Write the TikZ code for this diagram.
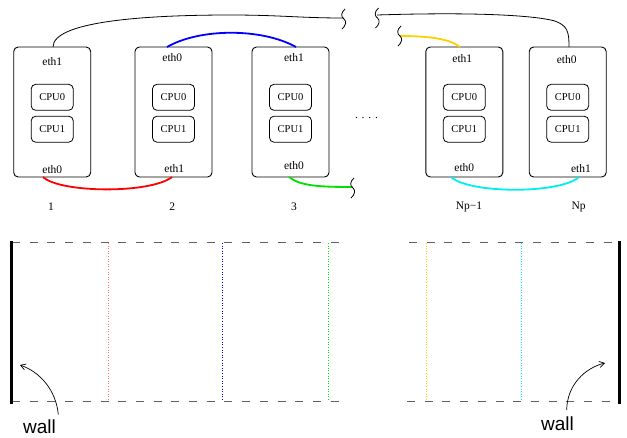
\documentclass[tikz,border=0pt]{standalone}
\usepackage{fontspec}
\setmainfont{Liberation Serif}
\newfontfamily\wallfont{Liberation Sans}
\usetikzlibrary{arrows.meta}
\definecolor{linkgreen}{RGB}{0,225,0}
\definecolor{linkyellow}{RGB}{255,208,0}
\definecolor{linkcyan}{RGB}{0,238,238}
\begin{document}
\begin{tikzpicture}[x=1pt,y=-1pt,
  host/.style={draw, line width=0.9pt, rounded corners=4.5pt,
    minimum width=77pt, minimum height=130pt, inner sep=0pt},
  cpu/.style={draw, line width=0.8pt, rounded corners=4.5pt,
    minimum width=42pt, minimum height=26pt, inner sep=0pt,
    font=\fontsize{10.5}{12}\selectfont},
  port/.style={inner sep=0pt, font=\fontsize{11.5}{13}\selectfont},
  rank/.style={inner sep=0pt, font=\fontsize{11.5}{13}\selectfont},
  link/.style={line width=1.8pt},
  cable/.style={line width=0.8pt},
  slab/.style={draw=black!62, line width=1.3pt, dash pattern=on 8pt off 9.7pt},
  wallline/.style={line width=3.5pt},
  part/.style={line width=0.8pt, dash pattern=on 1pt off 1.6pt},
  walltext/.style={inner sep=0pt, anchor=base, font=\wallfont\fontsize{19}{21}\selectfont},
  pointer/.style={line width=0.7pt, -{Straight Barb[length=5pt,width=6pt]}},
  brk/.pic={\draw[line width=0.8pt] (1.5,-10) .. controls (-3,-6) and (-2.5,-2) .. (0.5,0)
            .. controls (3.5,2.5) and (2,7) .. (-1.5,10);}
]
\useasboundingbox (0,0) rectangle (627,437);

% hosts with two CPUs each
\foreach \n/\x in {h1/52.2, h2/173.5, h3/290.5, hm/464.3, hn/567.7} {
  \node[host] (\n) at (\x,112) {};
  \node[cpu] (\n-c0) at (\x,97.3) {CPU0};
  \node[cpu] (\n-c1) at (\x,129.2) {CPU1};
}

% network port labels
\node[port] (h1-top) at (52.3,62) {eth1};
\node[port] (h1-bot) at (52.3,170) {eth0};
\node[port] (h2-top) at (172.3,58) {eth0};
\node[port] (h2-bot) at (174.3,169) {eth1};
\node[port] (h3-top) at (294,57.5) {eth1};
\node[port] (h3-bot) at (294,165.7) {eth0};
\node[port] (hm-top) at (462.3,59) {eth1};
\node[port] (hm-bot) at (464.3,167.7) {eth0};
\node[port] (hn-top) at (566.7,60) {eth0};
\node[port] (hn-bot) at (581,168.3) {eth1};

% rank numbers
\node[rank] (r1) at (51,206.7) {1};
\node[rank] (r2) at (172.3,206.7) {2};
\node[rank] (r3) at (294,206.7) {3};
\node[rank] (rm) at (469,206.7) {Np−1};
\node[rank] (rn) at (578.7,206.7) {Np};
\node[rank, anchor=base] (gap) at (366.5,118.7) {. . . .};

% cable end points on the host frames
\coordinate (p1t) at (53,47);
\coordinate (p1b) at (43,177);
\coordinate (p2t) at (167,47);
\coordinate (p2b) at (172,177);
\coordinate (p3t) at (296,47);
\coordinate (p3b) at (289,177);
\coordinate (pmt) at (460,47);
\coordinate (pmb) at (451,177);
\coordinate (pnt) at (569,47);
\coordinate (pnb) at (579,177);
% cut ends
\coordinate (cutA) at (343.5,18);
\coordinate (cutB) at (377,15);
\coordinate (cutY) at (399.5,36);
\coordinate (cutG) at (352.5,187);

% point-to-point links
\draw[link, red] (p1b) .. controls (60,193) and (150,194) .. (p2b);
\draw[link, blue] (p2t) .. controls (200,28) and (262,28) .. (p3t);
\draw[link, linkgreen] (p3b) .. controls (300,186) and (320,187) .. (cutG);
\draw[link, linkyellow] (cutY) .. controls (430,36) and (450,39) .. (pmt);
\draw[link, linkcyan] (pmb) .. controls (470,194) and (560,194) .. (pnb);

% long cable closing the ring
\draw[cable] (p1t) .. controls (53,22) and (140,15) .. (230,15)
  .. controls (280,15) and (300,18) .. (cutA);
\draw[cable] (cutB) .. controls (470,12) and (530,15) .. (553,20.5)
  .. controls (568,25) and (569,32) .. (pnt);

% break marks
\pic at (343.5,19) {brk};
\pic at (377,18) {brk};
\pic at (399.5,36) {brk};
\pic at (352.5,188) {brk};

% domain slabs
\draw[slab] (12,242.7) -- (344,242.7);
\draw[slab] (12,401.7) -- (344,401.7);
\draw[slab] (409,242.7) -- (619,242.7);
\draw[slab] (407,401.7) -- (619,401.7);

% walls
\coordinate (wl1) at (11.5,241);
\coordinate (wl2) at (11.5,403.5);
\coordinate (wr1) at (619.5,241);
\coordinate (wr2) at (619.5,403.5);
\draw[wallline] (wl1) -- (wl2);
\draw[wallline] (wr1) -- (wr2);

% subdomain boundaries
\draw[part, red!55] (108.3,243) -- (108.3,401);
\draw[part, blue] (222.3,243) -- (222.3,401);
\draw[part, linkgreen] (328.3,243) -- (328.3,401);
\draw[part, linkyellow] (426,243) -- (426,401);
\draw[part, linkcyan] (521.3,243) -- (521.3,401);

% wall labels
\node[walltext] (wallL) at (39.5,433) {wall};
\node[walltext] (wallR) at (557.5,430.5) {wall};
\coordinate (aL) at (20,365);
\coordinate (aR) at (605,363);
\draw[pointer] (58.3,414.5) .. controls (56,390) and (40,372) .. (aL);
\draw[pointer] (566.7,410) .. controls (567,385) and (585,368) .. (aR);
\end{tikzpicture}
\end{document}
